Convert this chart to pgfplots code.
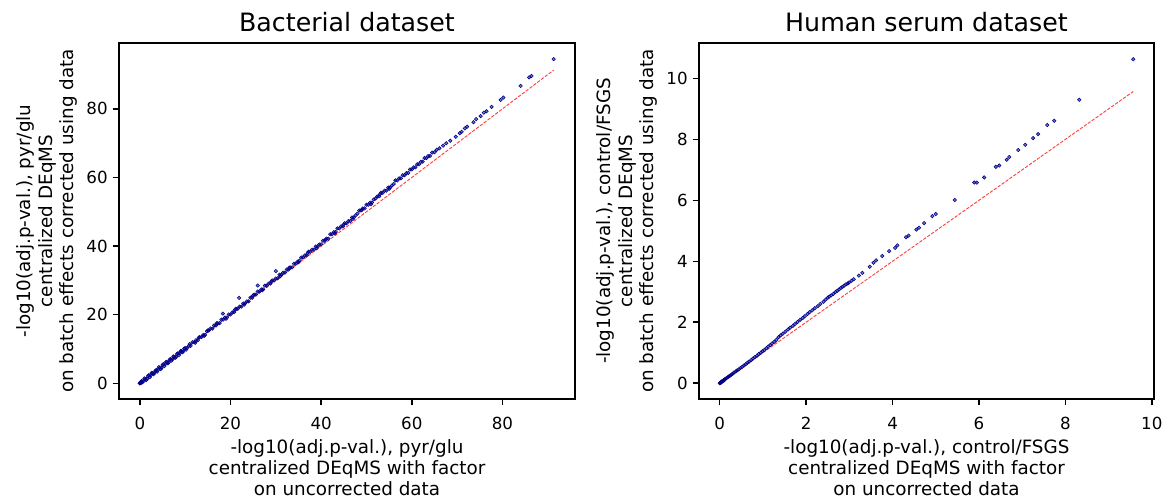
\documentclass[border=0pt]{standalone}
\usepackage{fontspec}
\setmainfont{DejaVu Sans}
\usepackage{pgfplots}
\pgfplotsset{compat=1.18}
\definecolor{dblue}{HTML}{00008B}
\pgfplotsset{
 myax/.style={
  scale only axis, height=256.3pt, anchor=south west,
  axis line style={line width=1.05pt},
  tick align=outside, major tick length=4.6pt,
  every tick/.style={black, line width=1.05pt},
  xtick pos=bottom, ytick pos=left,
  /pgf/number format/assume math mode=true,
  tick label style={font=\fontsize{12}{14}\selectfont},
  xticklabel style={yshift=-5.2pt},
  label style={font=\fontsize{13.2}{15.2}\selectfont, align=center},
  title style={font=\fontsize{18.2}{21}\selectfont, at={(0.5,1)}, anchor=base, yshift=2.6pt},
 },
 dots/.style={only marks, mark=*, mark size=1.25pt, color=dblue, mark options={draw=none, fill=dblue, fill opacity=0.55}},
 diag/.style={red, opacity=0.75, line width=0.66pt, dash pattern=on 2.4pt off 1.05pt},
}
\begin{document}
\begin{tikzpicture}
\path[use as bounding box] (0,0) rectangle (841.68pt,360pt);
\begin{axis}[myax, at={(85.68pt,72.72pt)}, width=328.3pt,
  xmin=-4.6, xmax=96, ymin=-4.6, ymax=99.2,
  xtick={0,20,40,60,80}, ytick={0,20,40,60,80},
  title={Bacterial dataset},
  xlabel={-log10(adj.p-val.), pyr/glu\\centralized DEqMS with factor\\on uncorrected data},
  ylabel={-log10(adj.p-val.), pyr/glu\\centralized DEqMS\\on batch effects corrected using data}]
\addplot[dots] coordinates {
(0,0) (0.01,0.02) (0.03,0.01) (0.05,0.08) (0.08,0.04) (0.1,0.15) (0.12,0.09) (0.15,0.2) (0.18,0.12) (0.2,0.3) (0.22,0.18) (0.25,0.35) (0.28,0.22) (0.3,0.4) (0.33,0.25)
(0.4,0.65) (0.8,0.65) (1.2,1.25) (1.6,1.3) (2.0,2.35) (2.4,2.35) (2.8,2.95) (3.2,2.95) (3.6,3.85) (4.0,3.85)
(4.4,4.45) (4.8,4.5) (5.2,5.55) (5.6,5.55) (6.0,6.15) (6.4,6.15) (6.8,7.05) (7.2,7.05) (7.6,7.65) (8.0,7.7)
(8.4,8.75) (8.8,8.75) (9.2,9.35) (9.6,9.35) (10.0,10.25) (10.4,10.25) (10.8,10.85) (11.2,10.9) (11.6,11.95) (12.0,11.95)
(12.4,12.55) (12.8,12.55) (13.2,13.45) (13.6,13.45) (14.0,14.05) (14.4,14.1) (14.8,15.15) (15.2,15.35) (15.6,15.95) (16.0,15.95)
(16.4,16.85) (16.8,16.85) (17.2,17.45) (17.6,17.5) (18.0,18.55) (18.4,18.55) (18.8,19.15) (19.2,19.15) (19.6,20.05) (20.0,20.05)
(20.4,20.65) (20.8,20.7) (21.2,21.75) (21.6,21.75) (22.0,22.35) (22.4,22.35) (22.8,23.25) (23.2,23.25) (23.6,23.85) (24.0,23.9)
(24.4,24.95) (24.8,24.95) (25.2,25.85) (25.6,25.85) (26.0,26.75) (26.4,26.75) (26.8,27.35) (27.2,27.4) (27.6,28.45) (28.0,28.45)
(28.4,29.05) (28.8,29.05) (29.2,29.95) (29.6,29.95) (30.0,30.55) (30.4,30.6) (30.8,31.65) (31.2,31.65) (31.6,32.25) (32.0,32.25)
(32.4,33.15) (32.8,33.15) (33.2,33.75) (33.6,33.8) (34.0,34.85) (34.4,34.85) (34.8,35.45) (35.2,35.75) (35.6,36.65) (36.0,36.65)
(36.4,37.25) (36.8,37.3) (37.2,38.35) (37.6,38.35) (38.0,38.95) (38.4,38.95) (38.8,39.85) (39.2,39.85) (39.6,40.45) (40.0,40.5)
(40.4,41.55) (40.8,41.55) (41.2,42.15) (41.6,42.15) (42.0,43.45) (42.4,43.45) (42.8,44.05) (43.2,44.1) (43.6,45.15) (44.0,45.15)
(44.4,45.75) (44.8,45.75) (45.2,46.65) (45.6,46.65) (46.0,47.25) (46.4,47.3) (46.8,48.35) (47.2,48.35) (47.6,48.95) (48.0,49.45)
(48.4,50.35) (48.8,50.35) (49.2,50.95) (49.6,51.0) (50.0,52.05) (50.4,52.05) (50.8,52.65) (51.2,52.65) (51.6,53.55) (52.0,53.85)
(52.4,54.45) (52.8,54.5) (53.2,55.55) (53.6,55.55) (54.0,56.15) (54.4,56.15) (54.8,57.05) (55.2,57.05) (55.6,57.65) (56.0,58.1)
(56.4,59.15) (56.8,59.15) (57.2,59.75) (57.6,59.75) (58.0,60.65) (58.4,60.65) (58.8,61.25) (59.2,61.3) (59.6,62.35) (60.0,62.35)
(60.4,62.95) (60.8,62.95) (61.2,63.85) (61.6,63.85) (62.0,64.55) (62.4,64.6) (62.8,65.65) (63.2,65.65) (63.6,66.25) (64.0,66.25)
(64.5,67.25) (65.0,67.35) (65.5,68.05)
(66.1,68.5) (66.9,69.3) (67.6,70.0) (68.5,70.7) (69.7,71.9) (70.6,72.9) (71.0,73.3) (71.7,74.3) (72.2,74.8) (73.6,76.1)
(74.2,77.0) (75.2,77.9) (75.9,78.9) (76.5,79.3) (77.6,80.6) (79.6,82.6) (80.2,83.3) (84.0,86.7) (85.9,89.2) (86.4,89.6) (91.3,94.5)
(18.3,20.3) (21.9,24.9) (26.0,28.5) (30.0,32.7)
(0.6,0.3) (1.0,1.4) (1.4,0.9) (1.8,2.1) (2.2,1.8) (2.6,3.0) (3.0,2.6) (3.4,3.6) (3.8,3.4) (4.2,4.7)
(4.6,4.1) (5.0,5.3) (5.4,5.0) (5.8,6.2) (6.2,5.8) (6.6,6.9) (7.0,6.6) (7.4,7.8) (7.8,7.4) (8.2,8.5)
(8.6,8.2) (9.0,9.4) (9.4,9.0) (9.8,10.1) (10.2,9.8) (11.0,11.4) (12.2,11.8) (13.0,13.3) (14.2,13.8) (15.0,15.4)
(17.0,17.5) (19.0,18.8) (21.0,21.4) (23.0,22.9) (25.0,25.6) (27.0,27.1) (29.0,29.7) (31.0,31.2) (33.0,33.7) (35.0,35.3)
(37.0,37.9) (39.0,39.4) (41.0,41.9) (43.0,43.7) (45.0,46.3) (47.0,47.9) (49.0,50.6) (51.0,52.2) (53.0,55.1) (55.0,56.7)
};
\addplot[diag] coordinates {(0,0) (91.3,91.3)};
\end{axis}
\begin{axis}[myax, at={(503.28pt,72.72pt)}, width=327.6pt,
  xmin=-0.48, xmax=10.05, ymin=-0.52, ymax=11.16,
  xtick={0,2,4,6,8,10}, ytick={0,2,4,6,8,10},
  title={Human serum dataset},
  xlabel={-log10(adj.p-val.), control/FSGS\\centralized DEqMS with factor\\on uncorrected data},
  ylabel={-log10(adj.p-val.), control/FSGS\\centralized DEqMS\\on batch effects corrected using data}]
\addplot[dots] coordinates {
(0,0) (0.01,0.01) (0.02,0.01) (0.03,0.04) (0.04,0.03) (0.05,0.06) (0.07,0.06) (0.09,0.1) (0.1,0.09) (0.12,0.13)
(0.15,0.16) (0.18,0.19) (0.21,0.22) (0.24,0.25) (0.27,0.28) (0.30,0.31) (0.33,0.35) (0.37,0.38) (0.40,0.42) (0.44,0.45)
(0.48,0.50) (0.52,0.54) (0.56,0.58) (0.60,0.62) (0.64,0.67) (0.68,0.71) (0.73,0.76) (0.77,0.81) (0.81,0.85) (0.86,0.90)
(0.90,0.95) (0.95,1.00) (0.99,1.05) (1.03,1.09) (1.08,1.15) (1.12,1.20) (1.17,1.25) (1.21,1.30) (1.26,1.36) (1.31,1.42)
(1.36,1.51) (1.41,1.57) (1.46,1.62) (1.52,1.69) (1.58,1.76) (1.63,1.82) (1.69,1.88) (1.74,1.94) (1.80,2.01) (1.86,2.08)
(1.92,2.14) (1.97,2.20) (2.03,2.27) (2.08,2.33) (2.14,2.39) (2.20,2.46) (2.27,2.53) (2.33,2.60) (2.40,2.67) (2.45,2.74)
(2.50,2.80) (2.53,2.84) (2.58,2.88) (2.63,2.93) (2.68,2.99) (2.72,3.03) (2.76,3.07) (2.80,3.12) (2.84,3.16) (2.88,3.20)
(2.92,3.24) (2.96,3.27) (2.99,3.30) (3.05,3.36) (3.10,3.41)
(3.22,3.53) (3.30,3.62) (3.47,3.82) (3.56,3.95) (3.62,4.03) (3.76,4.17) (3.92,4.33) (4.06,4.44) (4.11,4.52) (4.31,4.79)
(4.37,4.84) (4.55,5.04) (4.61,5.10) (4.73,5.25) (4.92,5.48) (5.00,5.55) (5.44,6.01) (5.89,6.58) (5.95,6.58) (6.12,6.75)
(6.39,7.10) (6.47,7.14) (6.64,7.33) (6.70,7.42) (6.91,7.65) (7.07,7.82) (7.25,8.04) (7.37,8.17) (7.58,8.47) (7.74,8.61)
(8.32,9.30) (9.57,10.63)
};
\addplot[diag] coordinates {(0,0) (9.57,9.57)};
\end{axis}
\end{tikzpicture}
\end{document}
